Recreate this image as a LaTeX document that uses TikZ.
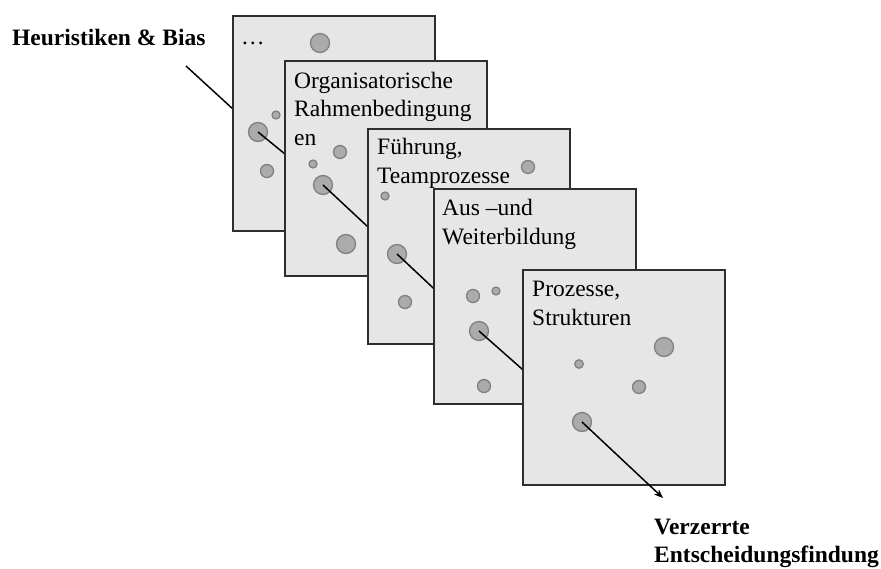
\documentclass[tikz,border=0pt]{standalone}
\usepackage{fontspec}
\setmainfont{Liberation Serif}
\usetikzlibrary{arrows.meta}
\definecolor{panelfill}{HTML}{E6E6E6}
\definecolor{panelline}{HTML}{2E2E2E}
\definecolor{blobfill}{HTML}{ABABAB}
\definecolor{blobline}{HTML}{808080}
\tikzset{
 panel/.style={draw=panelline, fill=panelfill, line width=1.5pt, minimum width=202pt, minimum height=215pt, anchor=north west, inner sep=0pt},
 ptext/.style={anchor=base west, align=left, inner sep=0pt, font=\fontsize{23.5}{28.5}\selectfont},
 blabel/.style={anchor=base west, align=left, inner sep=0pt, font=\fontsize{23.5}{27.5}\selectfont\bfseries},
 blob/.style={circle, draw=blobline, fill=blobfill, line width=1.3pt, inner sep=0pt, minimum size=#1},
 link/.style={draw=black, line width=1.5pt},
}
\begin{document}
\begin{tikzpicture}[x=1pt,y=-1pt]
\useasboundingbox (0,0) rectangle (881,568);
\coordinate (b1) at (258,132);
\coordinate (b2) at (323,185);
\coordinate (b3) at (397,254);
\coordinate (b4) at (479,331);
\coordinate (b5) at (582,422);
\coordinate (hs) at (186,66);
\coordinate (tip) at (663,498);
% label
\node[blabel] (heur) at (12,45) {Heuristiken \& Bias};
\draw[link] (hs) -- (b1);
% panel 1
\node[panel] (p1) at (232,15) {};
\node[ptext] (t1) at (241,44) {…};
\node[blob=19pt] (p1a) at (320,43) {};
\node[blob=8pt] (p1b) at (276,115) {};
\node[blob=13pt] (p1c) at (267,171) {};
\node[blob=19pt] (c1) at (b1) {};
\draw[link] (c1.center) -- (b2);
% panel 2
\node[panel] (p2) at (284,60) {};
\node[ptext] (t2) at (294,145) {Organisatorische\\Rahmenbedingung\\en};
\node[blob=13pt] (p2a) at (340,152) {};
\node[blob=8pt] (p2b) at (313,164) {};
\node[blob=19pt] (p2c) at (346,244) {};
\node[blob=19pt] (c2) at (b2) {};
\draw[link] (c2.center) -- (b3);
% panel 3
\node[panel] (p3) at (367,128) {};
\node[ptext] (t3) at (377,183) {Führung,\\Teamprozesse};
\node[blob=13pt] (p3a) at (528,167) {};
\node[blob=8pt] (p3b) at (385,196) {};
\node[blob=13pt] (p3c) at (405,302) {};
\node[blob=19pt] (c3) at (b3) {};
\draw[link] (c3.center) -- (b4);
% panel 4
\node[panel] (p4) at (433,188) {};
\node[ptext] (t4) at (442,244) {Aus –und\\Weiterbildung};
\node[blob=13pt] (p4a) at (473,296) {};
\node[blob=8pt] (p4b) at (496,291) {};
\node[blob=13pt] (p4c) at (484,386) {};
\node[blob=19pt] (c4) at (b4) {};
\draw[link] (c4.center) -- (b5);
% panel 5
\node[panel] (p5) at (522,269) {};
\node[ptext] (t5) at (532,325) {Prozesse,\\Strukturen};
\node[blob=19pt] (p5a) at (664,347) {};
\node[blob=8.5pt] (p5b) at (579,364) {};
\node[blob=13pt] (p5c) at (639,387) {};
\node[blob=19pt] (c5) at (b5) {};
\draw[link, -{Stealth[length=9pt,width=7pt]}] (c5.center) -- (tip);
% outcome label
\node[blabel] (out) at (654,562) {Verzerrte\\Entscheidungsfindung};
\end{tikzpicture}
\end{document}
